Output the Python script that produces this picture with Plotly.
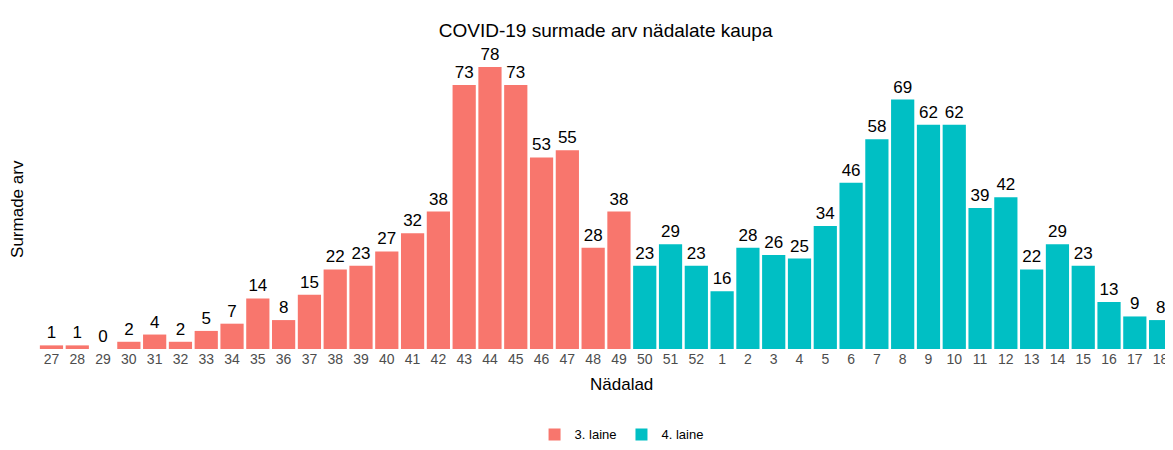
import plotly.graph_objects as go

weeks_w3 = ["27", "28", "29", "30", "31", "32", "33", "34", "35", "36", "37", "38",
            "39", "40", "41", "42", "43", "44", "45", "46", "47", "48", "49"]
deaths_w3 = [1, 1, 0, 2, 4, 2, 5, 7, 14, 8, 15, 22, 23, 27, 32, 38, 73, 78, 73, 53, 55, 28, 38]

weeks_w4 = ["50", "51", "52", "1", "2", "3", "4", "5", "6", "7", "8", "9", "10",
            "11", "12", "13", "14", "15", "16", "17", "18"]
deaths_w4 = [23, 29, 23, 16, 28, 26, 25, 34, 46, 58, 69, 62, 62, 39, 42, 22, 29, 23, 13, 9, 8]

all_weeks = weeks_w3 + weeks_w4

W, H = 1165, 442
L, R, T, B = 28, 0, 42, 99
ph = H - T - B

lab_font = dict(color="black", size=17, family="Liberation Sans, Arial")

fig = go.Figure()
fig.add_trace(go.Bar(
    x=weeks_w3, y=deaths_w3, name="3. laine",
    marker=dict(color="#F8766D", line=dict(width=0)),
    text=[str(v) for v in deaths_w3], textposition="outside",
    textfont=lab_font, cliponaxis=False,
))
fig.add_trace(go.Bar(
    x=weeks_w4, y=deaths_w4, name="4. laine",
    marker=dict(color="#00BFC4", line=dict(width=0)),
    text=[str(v) for v in deaths_w4], textposition="outside",
    textfont=lab_font, cliponaxis=False,
))

fig.update_layout(
    width=W, height=H,
    margin=dict(l=L, r=R, t=T, b=B),
    paper_bgcolor="white", plot_bgcolor="white",
    barmode="overlay", bargap=0.1,
    font=dict(family="Liberation Sans, Arial", color="black"),
    title=dict(text="COVID-19 surmade arv nädalate kaupa", x=0.513, xanchor="center",
               y=1 - 22 / H, yanchor="middle", font=dict(size=19, color="black")),
    xaxis=dict(type="category", categoryorder="array", categoryarray=all_weeks,
               range=[-0.6, 43.48], showgrid=False, zeroline=False, showline=False,
               ticks="", ticklen=0, tickfont=dict(size=14, color="#4d4d4d")),
    yaxis=dict(range=[0, 82.7], showgrid=False, zeroline=False, showline=False,
               showticklabels=False, ticks=""),
    legend=dict(orientation="h", x=0.515, xanchor="center", y=(343 - 429) / ph,
                yanchor="middle", font=dict(size=13, color="black"),
                itemsizing="constant"),
    showlegend=True,
    annotations=[
        dict(text="Nädalad", xref="paper", yref="paper", x=0.515,
             y=(343 - 379) / ph, xanchor="center", yanchor="middle",
             showarrow=False, font=dict(size=17, color="black")),
        dict(text="Surmade arv", xref="paper", yref="paper", x=(10 - L) / (W - L - R),
             y=(343 - 202) / ph, xanchor="center", yanchor="middle", textangle=-90,
             showarrow=False, font=dict(size=17, color="black")),
    ],
)

fig.write_html("out.html")
